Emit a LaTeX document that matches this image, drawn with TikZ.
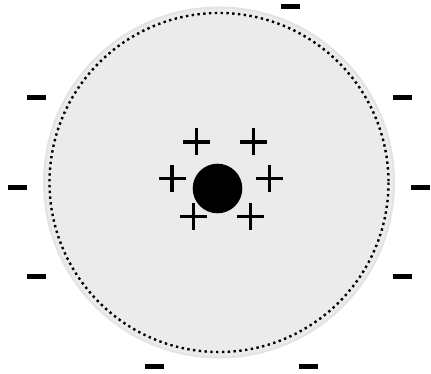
\documentclass[tikz,border=0pt]{standalone}
\begin{document}
\begin{tikzpicture}[x=1pt,y=-1pt,
  disk/.style={fill=black!8,draw=black!11,line width=2pt},
  dotring/.style={draw=black,line width=2.4pt,dash pattern=on 2.4pt off 3.4pt},
  core/.style={fill=black},
  plusarm/.style={draw=black,line width=3.8pt},
  minusbar/.style={fill=black}]
\useasboundingbox (0,0) rectangle (431,374);
\coordinate (c) at (219,182.5);
\fill[disk] (c) circle (175);
\draw[dotring] (c) circle (169.5);
\fill[core] (217.5,188.5) circle (24.8);
% plus signs
\foreach \x/\y in {196.5/142, 253.5/142, 172/178.5, 269.5/178.5, 193.5/216.5, 250.5/216.5}{
  \draw[plusarm] (\x-13.5,\y) -- (\x+13.5,\y) (\x,\y-13.5) -- (\x,\y+13.5);
}
% minus signs
\foreach \x/\y in {290.5/7, 36.5/97.5, 402.5/97.5, 17.5/187.5, 420.5/187.5, 36.5/276.5, 402.5/276.5, 154.5/366.5, 308.5/366.5}{
  \fill[minusbar] (\x-9.5,\y-2.5) rectangle (\x+9.5,\y+2.5);
}
\end{tikzpicture}
\end{document}
